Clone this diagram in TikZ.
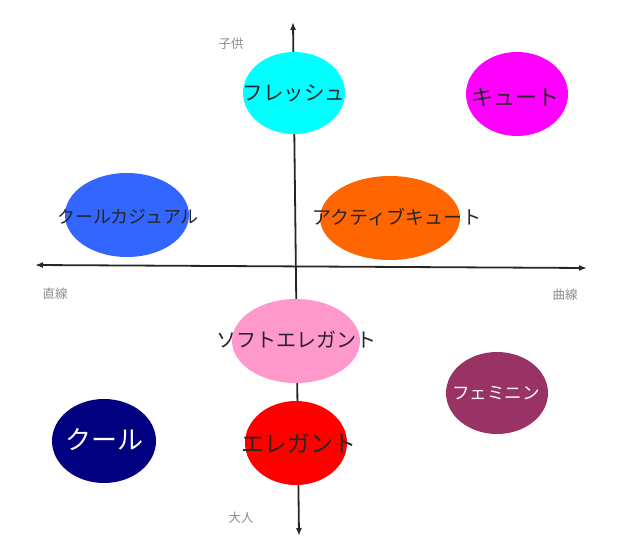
\documentclass[tikz,border=0pt]{standalone}
\usepackage{fontspec}
\newfontfamily\jp{Noto Sans CJK JP}
\usetikzlibrary{arrows.meta}

\definecolor{freshcol}{HTML}{00FFFF}
\definecolor{cutecol}{HTML}{FF00FF}
\definecolor{cascol}{HTML}{3366FF}
\definecolor{activecol}{HTML}{FF6600}
\definecolor{softcol}{HTML}{FF99CC}
\definecolor{femcol}{HTML}{993366}
\definecolor{coolcol}{HTML}{000080}
\definecolor{elegcol}{HTML}{FF0000}

\newcommand{\jpsize}[1]{\jp\fontsize{#1}{#1}\selectfont}

\tikzset{
  axis/.style={draw=black!85, line width=1.8pt},
  pole/.style={text=black!45, inner sep=0pt, font=\jpsize{12.5}},
  lbl/.style={text=black!85, inner sep=0pt},
}

\begin{document}
\begin{tikzpicture}[x=1pt,y=-1pt]
\useasboundingbox (0,0) rectangle (623,556);

\coordinate (top) at (293,22);
\coordinate (bottom) at (299,536);
\coordinate (left) at (35,265);
\coordinate (right) at (587,268);

% axes
\draw[axis, {Latex[length=8pt,width=6pt]}-{Latex[length=8pt,width=6pt]}] (left) -- (right);
\draw[axis, {Latex[length=8pt,width=6pt]}-{Latex[length=8pt,width=6pt]}] (top) -- (bottom);

\node[pole] (kodomo) at (231,44) {子供};
\node[pole] (chokusen) at (55,294) {直線};
\node[pole] (kyokusen) at (565,295) {曲線};
\node[pole] (otona) at (241,518) {大人};

% ellipses
\fill[freshcol] (294,93) ellipse (51 and 41);
\fill[cutecol] (517,94) ellipse (51 and 42);
\fill[cascol] (127,215) ellipse (62 and 42);
\fill[activecol] (390,218) ellipse (70 and 42);
\fill[softcol] (296,341) ellipse (64 and 42);
\fill[femcol] (497,393) ellipse (51 and 41);
\fill[coolcol] (104,441) ellipse (52 and 42);
\fill[elegcol] (296,443) ellipse (51 and 42);

% texts
\node[lbl, font=\jpsize{20.5}] (fresh) at (294,93) {フレッシュ};
\node[lbl, font=\jpsize{22}] (cute) at (515,97) {キュート};
\node[lbl, font=\jpsize{18}] (cas) at (128,217) {クールカジュアル};
\node[lbl, font=\jpsize{19}] (active) at (397,217) {アクティブキュート};
\node[lbl, font=\jpsize{20}] (soft) at (296,340) {ソフトエレガント};
\node[lbl, font=\jpsize{17.5}, text=white!92!pink] (fem) at (496,393) {フェミニン};
\node[lbl, font=\jpsize{26}, text=white] (cool) at (104,440) {クール};
\node[lbl, font=\jpsize{23}] (eleg) at (299,443) {エレガント};

\end{tikzpicture}
\end{document}
